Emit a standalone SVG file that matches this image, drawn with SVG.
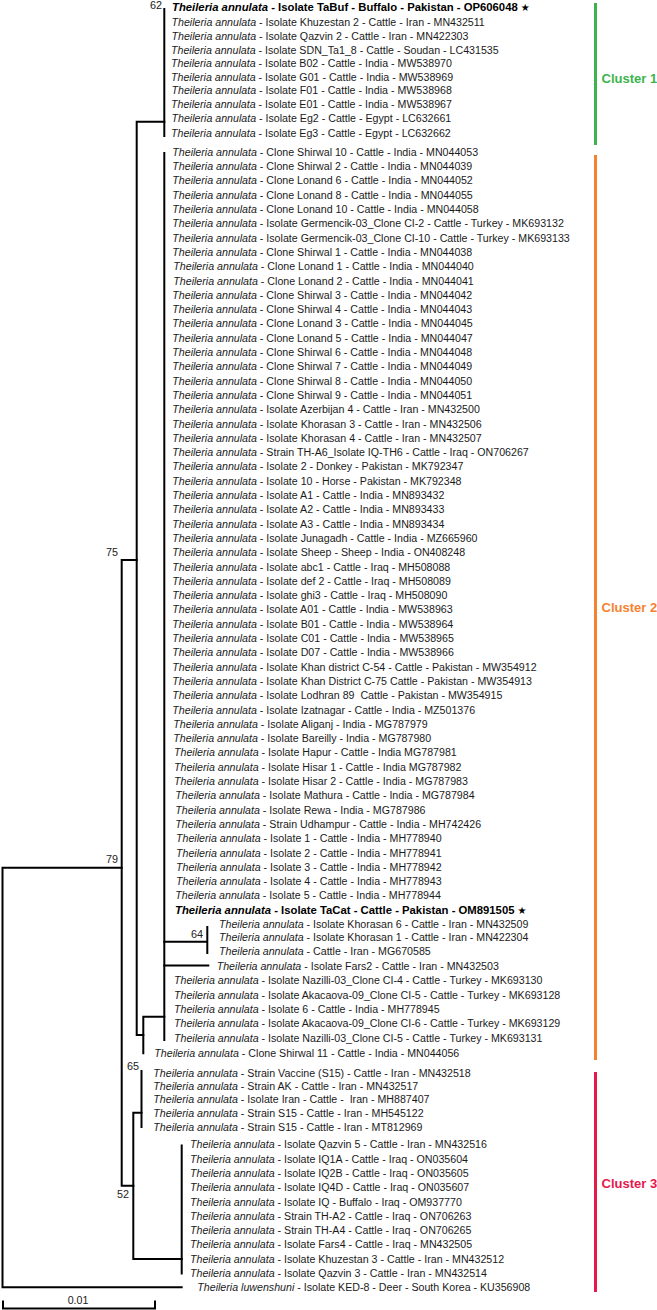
<svg xmlns="http://www.w3.org/2000/svg" width="657" height="1310" viewBox="0 0 657 1310">
<style>
.t{font-family:"Liberation Sans",Arial,sans-serif;font-size:10.65px;fill:#1a1a1a}
.i{font-style:italic}
.bt{font-weight:bold;font-size:11.3px;fill:#000}
.st{font-family:"DejaVu Sans",sans-serif;font-weight:normal;font-size:10px}
.bs{font-family:"Liberation Sans",Arial,sans-serif;font-size:10.8px;text-anchor:end;fill:#222}
.e{stroke:#000;stroke-width:2;fill:none;stroke-linecap:square}
.cl{font-family:"Liberation Sans",Arial,sans-serif;font-size:13px;font-weight:bold}
.bar{stroke-width:3;fill:none}
</style>
<rect width="657" height="1310" fill="#fff"/>
<g id="connectors">
<path class="e" d="M2.5,867.7V1287.3H181.7M2.5,867.7H121.7"/>
<path class="e" d="M136.7,560H121.7V1185.8H133.3"/>
<path class="e" d="M164.3,121.7H136.7V1035H143.3"/>
<path class="e" d="M164.3,9V136"/>
<path class="e" d="M164.3,1016.7H143.3V1053.3"/>
<path class="e" d="M164.3,153V1040"/>
<path class="e" d="M164.3,941.7H207.3M207.3,927V953"/>
<path class="e" d="M164.3,965.5H208.3"/>
<path class="e" d="M141.5,1112.7H133.3V1259H181.7"/>
<path class="e" d="M141.5,1071V1127"/>
<path class="e" d="M181.7,1145.5V1273.5"/>
</g>
<g id="bootstrap">
<text class="bs" x="162" y="9">62</text>
<text class="bs" x="118" y="556">75</text>
<text class="bs" x="118" y="863">79</text>
<text class="bs" x="203" y="938">64</text>
<text class="bs" x="139" y="1070">65</text>
<text class="bs" x="129" y="1198">52</text>
</g>
<g id="cluster1">
<g id="n1"><text class="t bt" x="172" y="11.3"><tspan class="i">Theileria annulata</tspan> - Isolate TaBuf - Buffalo - Pakistan - OP606048 <tspan class="st">★</tspan></text></g>
<g id="n2"><text class="t" x="171.5" y="25.5"><tspan class="i">Theileria annulata</tspan> - Isolate Khuzestan 2 - Cattle - Iran - MN432511</text></g>
<g id="n3"><text class="t" x="171.5" y="39.5"><tspan class="i">Theileria annulata</tspan> - Isolate Qazvin 2 - Cattle - Iran - MN422303</text></g>
<g id="n4"><text class="t" x="171" y="53.5"><tspan class="i">Theileria annulata</tspan> - Isolate SDN_Ta1_8 - Cattle - Soudan - LC431535</text></g>
<g id="n5"><text class="t" x="171" y="67.1"><tspan class="i">Theileria annulata</tspan> - Isolate B02 - Cattle - India - MW538970</text></g>
<g id="n6"><text class="t" x="171" y="80.5"><tspan class="i">Theileria annulata</tspan> - Isolate G01 - Cattle - India - MW538969</text></g>
<g id="n7"><text class="t" x="171.5" y="94.1"><tspan class="i">Theileria annulata</tspan> - Isolate F01 - Cattle - India - MW538968</text></g>
<g id="n8"><text class="t" x="171" y="108.1"><tspan class="i">Theileria annulata</tspan> - Isolate E01 - Cattle - India - MW538967</text></g>
<g id="n9"><text class="t" x="171.5" y="122.1"><tspan class="i">Theileria annulata</tspan> - Isolate Eg2 - Cattle - Egypt - LC632661</text></g>
<g id="n10"><text class="t" x="171" y="136.5"><tspan class="i">Theileria annulata</tspan> - Isolate Eg3 - Cattle - Egypt - LC632662</text></g>
</g>
<g id="cluster2">
<g id="n11"><text class="t" x="172.3" y="155.8"><tspan class="i">Theileria annulata</tspan> - Clone Shirwal 10 - Cattle - India - MN044053</text></g>
<g id="n12"><text class="t" x="172.3" y="170.1"><tspan class="i">Theileria annulata</tspan> - Clone Shirwal 2 - Cattle - India - MN044039</text></g>
<g id="n13"><text class="t" x="172.3" y="184.4"><tspan class="i">Theileria annulata</tspan> - Clone Lonand 6 - Cattle - India - MN044052</text></g>
<g id="n14"><text class="t" x="172.3" y="198.7"><tspan class="i">Theileria annulata</tspan> - Clone Lonand 8 - Cattle - India - MN044055</text></g>
<g id="n15"><text class="t" x="172.3" y="213.0"><tspan class="i">Theileria annulata</tspan> - Clone Lonand 10 - Cattle - India - MN044058</text></g>
<g id="n16"><text class="t" x="172.3" y="227.3"><tspan class="i">Theileria annulata</tspan> - Isolate Germencik-03_Clone CI-2 - Cattle - Turkey - MK693132</text></g>
<g id="n17"><text class="t" x="172.3" y="241.6"><tspan class="i">Theileria annulata</tspan> - Isolate Germencik-03_Clone CI-10 - Cattle - Turkey - MK693133</text></g>
<g id="n18"><text class="t" x="172.3" y="255.9"><tspan class="i">Theileria annulata</tspan> - Clone Shirwal 1 - Cattle - India - MN044038</text></g>
<g id="n19"><text class="t" x="173.3" y="270.2"><tspan class="i">Theileria annulata</tspan> - Clone Lonand 1 - Cattle - India - MN044040</text></g>
<g id="n20"><text class="t" x="173.3" y="284.5"><tspan class="i">Theileria annulata</tspan> - Clone Lonand 2 - Cattle - India - MN044041</text></g>
<g id="n21"><text class="t" x="172.3" y="298.8"><tspan class="i">Theileria annulata</tspan> - Clone Shirwal 3 - Cattle - India - MN044042</text></g>
<g id="n22"><text class="t" x="172.3" y="313.1"><tspan class="i">Theileria annulata</tspan> - Clone Shirwal 4 - Cattle - India - MN044043</text></g>
<g id="n23"><text class="t" x="172.3" y="327.4"><tspan class="i">Theileria annulata</tspan> - Clone Lonand 3 - Cattle - India - MN044045</text></g>
<g id="n24"><text class="t" x="172.3" y="341.7"><tspan class="i">Theileria annulata</tspan> - Clone Lonand 5 - Cattle - India - MN044047</text></g>
<g id="n25"><text class="t" x="172.3" y="356.0"><tspan class="i">Theileria annulata</tspan> - Clone Shirwal 6 - Cattle - India - MN044048</text></g>
<g id="n26"><text class="t" x="172.3" y="370.3"><tspan class="i">Theileria annulata</tspan> - Clone Shirwal 7 - Cattle - India - MN044049</text></g>
<g id="n27"><text class="t" x="172.3" y="384.6"><tspan class="i">Theileria annulata</tspan> - Clone Shirwal 8 - Cattle - India - MN044050</text></g>
<g id="n28"><text class="t" x="172.3" y="398.9"><tspan class="i">Theileria annulata</tspan> - Clone Shirwal 9 - Cattle - India - MN044051</text></g>
<g id="n29"><text class="t" x="172.3" y="413.2"><tspan class="i">Theileria annulata</tspan> - Isolate Azerbijan 4 - Cattle - Iran - MN432500</text></g>
<g id="n30"><text class="t" x="172.3" y="427.5"><tspan class="i">Theileria annulata</tspan> - Isolate Khorasan 3 - Cattle - Iran - MN432506</text></g>
<g id="n31"><text class="t" x="172.3" y="441.8"><tspan class="i">Theileria annulata</tspan> - Isolate Khorasan 4 - Cattle - Iran - MN432507</text></g>
<g id="n32"><text class="t" x="172.3" y="456.1"><tspan class="i">Theileria annulata</tspan> - Strain TH-A6_Isolate IQ-TH6 - Cattle - Iraq - ON706267</text></g>
<g id="n33"><text class="t" x="172.3" y="470.4"><tspan class="i">Theileria annulata</tspan> - Isolate 2 - Donkey - Pakistan - MK792347</text></g>
<g id="n34"><text class="t" x="172.3" y="484.7"><tspan class="i">Theileria annulata</tspan> - Isolate 10 - Horse - Pakistan - MK792348</text></g>
<g id="n35"><text class="t" x="172.3" y="499.0"><tspan class="i">Theileria annulata</tspan> - Isolate A1 - Cattle - India - MN893432</text></g>
<g id="n36"><text class="t" x="172.3" y="513.3"><tspan class="i">Theileria annulata</tspan> - Isolate A2 - Cattle - India - MN893433</text></g>
<g id="n37"><text class="t" x="172.3" y="527.6"><tspan class="i">Theileria annulata</tspan> - Isolate A3 - Cattle - India - MN893434</text></g>
<g id="n38"><text class="t" x="172.3" y="541.9"><tspan class="i">Theileria annulata</tspan> - Isolate Junagadh - Cattle - India - MZ665960</text></g>
<g id="n39"><text class="t" x="172.3" y="556.2"><tspan class="i">Theileria annulata</tspan> - Isolate Sheep - Sheep - India - ON408248</text></g>
<g id="n40"><text class="t" x="172.3" y="570.5"><tspan class="i">Theileria annulata</tspan> - Isolate abc1 - Cattle - Iraq - MH508088</text></g>
<g id="n41"><text class="t" x="172.3" y="584.8"><tspan class="i">Theileria annulata</tspan> - Isolate def 2 - Cattle - Iraq - MH508089</text></g>
<g id="n42"><text class="t" x="172.3" y="599.1"><tspan class="i">Theileria annulata</tspan> - Isolate ghi3 - Cattle - Iraq - MH508090</text></g>
<g id="n43"><text class="t" x="172.3" y="613.4"><tspan class="i">Theileria annulata</tspan> - Isolate A01 - Cattle - India - MW538963</text></g>
<g id="n44"><text class="t" x="172.3" y="627.7"><tspan class="i">Theileria annulata</tspan> - Isolate B01 - Cattle - India - MW538964</text></g>
<g id="n45"><text class="t" x="172.3" y="642.0"><tspan class="i">Theileria annulata</tspan> - Isolate C01 - Cattle - India - MW538965</text></g>
<g id="n46"><text class="t" x="172.3" y="656.3"><tspan class="i">Theileria annulata</tspan> - Isolate D07 - Cattle - India - MW538966</text></g>
<g id="n47"><text class="t" x="172.3" y="670.6"><tspan class="i">Theileria annulata</tspan> - Isolate Khan district C-54 - Cattle - Pakistan - MW354912</text></g>
<g id="n48"><text class="t" x="172.3" y="684.9"><tspan class="i">Theileria annulata</tspan> - Isolate Khan District C-75 Cattle - Pakistan - MW354913</text></g>
<g id="n49"><text class="t" x="172.3" y="699.2"><tspan class="i">Theileria annulata</tspan> - Isolate Lodhran 89 &#160;Cattle - Pakistan - MW354915</text></g>
<g id="n50"><text class="t" x="172.3" y="713.5"><tspan class="i">Theileria annulata</tspan> - Isolate Izatnagar - Cattle - India - MZ501376</text></g>
<g id="n51"><text class="t" x="173.3" y="727.8"><tspan class="i">Theileria annulata</tspan> - Isolate Aliganj - India - MG787979</text></g>
<g id="n52"><text class="t" x="173.3" y="742.1"><tspan class="i">Theileria annulata</tspan> - Isolate Bareilly - India - MG787980</text></g>
<g id="n53"><text class="t" x="174" y="756.4"><tspan class="i">Theileria annulata</tspan> - Isolate Hapur - Cattle - India MG787981</text></g>
<g id="n54"><text class="t" x="174" y="770.7"><tspan class="i">Theileria annulata</tspan> - Isolate Hisar 1 - Cattle - India MG787982</text></g>
<g id="n55"><text class="t" x="174" y="785.0"><tspan class="i">Theileria annulata</tspan> - Isolate Hisar 2 - Cattle - India - MG787983</text></g>
<g id="n56"><text class="t" x="175.3" y="799.3"><tspan class="i">Theileria annulata</tspan> - Isolate Mathura - Cattle - India - MG787984</text></g>
<g id="n57"><text class="t" x="175.3" y="813.6"><tspan class="i">Theileria annulata</tspan> - Isolate Rewa - India - MG787986</text></g>
<g id="n58"><text class="t" x="175.3" y="827.9"><tspan class="i">Theileria annulata</tspan> - Strain Udhampur - Cattle - India - MH742426</text></g>
<g id="n59"><text class="t" x="176" y="842.2"><tspan class="i">Theileria annulata</tspan> - Isolate 1 - Cattle - India - MH778940</text></g>
<g id="n60"><text class="t" x="176" y="856.5"><tspan class="i">Theileria annulata</tspan> - Isolate 2 - Cattle - India - MH778941</text></g>
<g id="n61"><text class="t" x="176" y="870.8"><tspan class="i">Theileria annulata</tspan> - Isolate 3 - Cattle - India - MH778942</text></g>
<g id="n62"><text class="t" x="176" y="885.1"><tspan class="i">Theileria annulata</tspan> - Isolate 4 - Cattle - India - MH778943</text></g>
<g id="n63"><text class="t" x="175.3" y="899.4"><tspan class="i">Theileria annulata</tspan> - Isolate 5 - Cattle - India - MH778944</text></g>
<g id="n64"><text class="t bt" x="175" y="913.9"><tspan class="i">Theileria annulata</tspan> - Isolate TaCat - Cattle - Pakistan - OM891505 <tspan class="st">★</tspan></text></g>
<g id="n65"><text class="t" x="219" y="928.0"><tspan class="i">Theileria annulata</tspan> - Isolate Khorasan 6 - Cattle - Iran - MN432509</text></g>
<g id="n66"><text class="t" x="219" y="941.3"><tspan class="i">Theileria annulata</tspan> - Isolate Khorasan 1 - Cattle - Iran - MN422304</text></g>
<g id="n67"><text class="t" x="219" y="954.8"><tspan class="i">Theileria annulata</tspan> - Cattle - Iran - MG670585</text></g>
<g id="n68"><text class="t" x="216.7" y="969.8"><tspan class="i">Theileria annulata</tspan> - Isolate Fars2 - Cattle - Iran - MN432503</text></g>
<g id="n69"><text class="t" x="174" y="984.3"><tspan class="i">Theileria annulata</tspan> - Isolate Nazilli-03_Clone CI-4 - Cattle - Turkey - MK693130</text></g>
<g id="n70"><text class="t" x="174" y="998.6"><tspan class="i">Theileria annulata</tspan> - Isolate Akacaova-09_Clone CI-5 - Cattle - Turkey - MK693128</text></g>
<g id="n71"><text class="t" x="174" y="1012.9"><tspan class="i">Theileria annulata</tspan> - Isolate 6 - Cattle - India - MH778945</text></g>
<g id="n72"><text class="t" x="174" y="1027.2"><tspan class="i">Theileria annulata</tspan> - Isolate Akacaova-09_Clone CI-6 - Cattle - Turkey - MK693129</text></g>
<g id="n73"><text class="t" x="174" y="1041.5"><tspan class="i">Theileria annulata</tspan> - Isolate Nazilli-03_Clone CI-5 - Cattle - Turkey - MK693131</text></g>
<g id="n74"><text class="t" x="154.3" y="1056.8"><tspan class="i">Theileria annulata</tspan> - Clone Shirwal 11 - Cattle - India - MN044056</text></g>
</g>
<g id="cluster3">
<g id="n75"><text class="t" x="153.3" y="1077.1"><tspan class="i">Theileria annulata</tspan> - Strain Vaccine (S15) - Cattle - Iran - MN432518</text></g>
<g id="n76"><text class="t" x="153.3" y="1089.8"><tspan class="i">Theileria annulata</tspan> - Strain AK - Cattle - Iran - MN432517</text></g>
<g id="n77"><text class="t" x="153.3" y="1103.1"><tspan class="i">Theileria annulata</tspan> - Isolate Iran - Cattle - &#160;Iran - MH887407</text></g>
<g id="n78"><text class="t" x="153.3" y="1116.5"><tspan class="i">Theileria annulata</tspan> - Strain S15 - Cattle - Iran - MH545122</text></g>
<g id="n79"><text class="t" x="153.3" y="1130.5"><tspan class="i">Theileria annulata</tspan> - Strain S15 - Cattle - Iran - MT812969</text></g>
<g id="n80"><text class="t" x="190" y="1148.1"><tspan class="i">Theileria annulata</tspan> - Isolate Qazvin 5 - Cattle - Iran - MN432516</text></g>
<g id="n81"><text class="t" x="190" y="1162.8"><tspan class="i">Theileria annulata</tspan> - Isolate IQ1A - Cattle - Iraq - ON035604</text></g>
<g id="n82"><text class="t" x="190" y="1176.8"><tspan class="i">Theileria annulata</tspan> - Isolate IQ2B - Cattle - Iraq - ON035605</text></g>
<g id="n83"><text class="t" x="190" y="1191.1"><tspan class="i">Theileria annulata</tspan> - Isolate IQ4D - Cattle - Iraq - ON035607</text></g>
<g id="n84"><text class="t" x="190" y="1205.5"><tspan class="i">Theileria annulata</tspan> - Isolate IQ - Buffalo - Iraq - OM937770</text></g>
<g id="n85"><text class="t" x="190" y="1219.5"><tspan class="i">Theileria annulata</tspan> - Strain TH-A2 - Cattle - Iraq - ON706263</text></g>
<g id="n86"><text class="t" x="190" y="1233.8"><tspan class="i">Theileria annulata</tspan> - Strain TH-A4 - Cattle - Iraq - ON706265</text></g>
<g id="n87"><text class="t" x="190" y="1248.1"><tspan class="i">Theileria annulata</tspan> - Isolate Fars4 - Cattle - Iraq - MN432505</text></g>
<g id="n88"><text class="t" x="190" y="1263.1"><tspan class="i">Theileria annulata</tspan> - Isolate Khuzestan 3 - Cattle - Iran - MN432512</text></g>
<g id="n89"><text class="t" x="190" y="1277.1"><tspan class="i">Theileria annulata</tspan> - Isolate Qazvin 3 - Cattle - Iran - MN432514</text></g>
</g>
<g id="outgroup">
<text class="t" x="197.3" y="1291.1"><tspan class="i">Theileria luwenshuni</tspan> - Isolate KED-8 - Deer - South Korea - KU356908</text>
</g>
<g id="cluster-bars">
<g id="bar1"><path class="bar" stroke="#3cb44b" d="M595.5,3V145"/><text class="cl" x="601.5" y="83" fill="#3cb44b">Cluster 1</text></g>
<g id="bar2"><path class="bar" stroke="#f5822f" d="M595.5,155V1060"/><text class="cl" x="601.5" y="612" fill="#f5822f">Cluster 2</text></g>
<g id="bar3"><path class="bar" stroke="#e6194b" d="M595.5,1072V1292"/><text class="cl" x="601.5" y="1188" fill="#e6194b">Cluster 3</text></g>
</g>
<g id="scale">
<path class="e" stroke-linecap="butt" d="M3,1301.5V1308.5H155V1301.5"/>
<text class="t" x="78" y="1304" text-anchor="middle">0.01</text>
</g>
</svg>
